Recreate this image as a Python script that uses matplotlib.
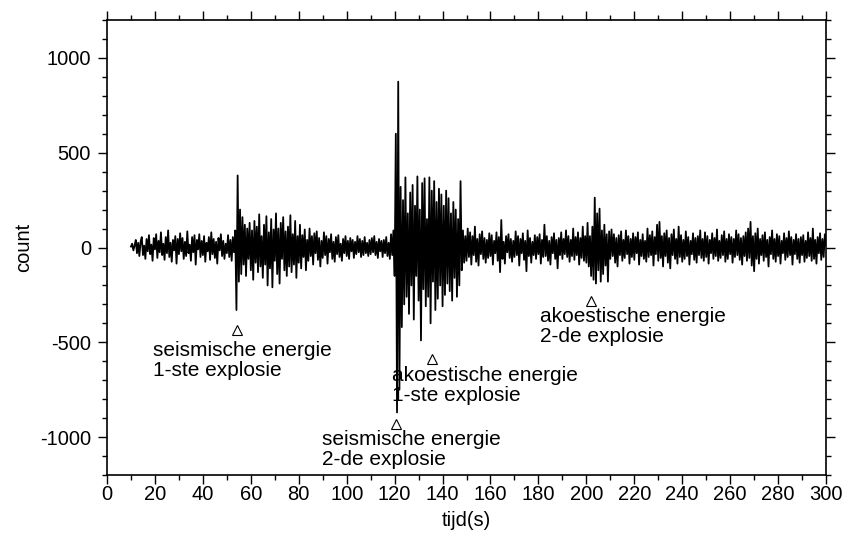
import matplotlib
matplotlib.use("Agg")
import matplotlib.pyplot as plt
import numpy as np
from matplotlib.ticker import MultipleLocator

plt.rcParams["font.family"] = ["Liberation Sans", "DejaVu Sans"]
plt.rcParams["axes.unicode_minus"] = False

# seismogram: first sample at 10 s, one value every 0.5 s
T_START = 10.0
DT = 0.5

counts = [
    # 10 - 19.5 s
    5, 20, -15, 10, 40, -30, 25, -45, 30, 55, -40, 10, -60, 45, -20, 65, -35, 15, -70, 50,
    # 20 - 29.5 s
    -10, 70, -55, 35, -25, 80, -40, 20, -65, 55, -30, 90, -50, 25, -75, 40, -15, 60, -85, 45,
    # 30 - 39.5 s
    -35, 75, -20, 50, -60, 30, -45, 85, -30, 15, -70, 55, -25, 65, -90, 40, -10, 70, -50, 35,
    # 40 - 49.5 s
    -40, 60, -75, 25, -20, 55, -65, 80, -35, 45, -55, 30, -85, 50, -15, 70, -45, 35, -60, 20,
    # 50 - 59.5 s  (seismic arrival 1st explosion)
    -30, 65, -50, 40, -70, 55, -25, 90, -330, 380, -180, 200, -140, 160, -90, 120, -150, 100, -60, 130,
    # 60 - 69.5 s
    -120, 90, -170, 140, -80, 110, -130, 175, -100, 60, -160, 120, -90, 165, -200, 80, -110, 150, -210, 95,
    # 70 - 79.5 s
    -70, 180, -140, 100, -190, 130, -60, 160, -120, 85, -150, 110, -100, 170, -130, 70, -90, 140, -160, 60,
    # 80 - 89.5 s
    -80, 120, -110, 65, -50, 95, -120, 40, -70, 100, -45, 60, -90, 75, -30, 85, -65, 50, -100, 35,
    # 90 - 99.5 s
    -55, 80, -40, 60, -85, 45, -25, 70, -60, 30, -75, 55, -35, 65, -50, 20, -70, 45, -30, 60,
    # 100 - 109.5 s
    -45, 35, -60, 50, -20, 40, -55, 30, -35, 60, -25, 45, -50, 35, -40, 55, -30, 25, -45, 40,
    # 110 - 119.5 s
    -35, 50, -25, 60, -40, 30, -55, 45, -20, 35, -50, 40, -30, 55, -45, 25, -60, 70, -40, 90,
    # 120 - 129.5 s  (seismic arrival 2nd explosion)
    -150, 600, -870, 875, -750, 320, -420, 250, -300, 370, -260, 180, -350, 290, -200, 330, -380, 220, -150, 375,
    # 130 - 139.5 s
    -280, 200, -490, 340, -220, 365, -310, 150, -260, 370, -400, 300, -180, 350, -330, 240, -270, 310, -200, 280,
    # 140 - 149.5 s
    -310, 220, -250, 300, -190, 260, -230, 180, -280, 240, -160, 200, -260, 150, -200, 350, -120, 90, -80, 60,
    # 150 - 159.5 s
    -70, 100, -50, 80, -90, 60, -40, 110, -75, 45, -95, 70, -35, 85, -60, 50, -80, 40, -55, 75,
    # 160 - 169.5 s
    -45, 65, -90, 35, -30, 80, -70, 55, -130, 145, -60, 30, -85, 60, -25, 70, -55, 45, -75, 35,
    # 170 - 179.5 s
    -50, 85, -40, 60, -95, 45, -30, 75, -65, 35, -125, 90, -45, 50, -80, 30, -40, 65, -60, 55,
    # 180 - 189.5 s
    -35, 70, -85, 40, -50, 120, -45, 60, -70, 35, -90, 55, -30, 75, -60, 40, -110, 50, -40, 80,
    # 190 - 199.5 s
    -60, 45, -35, 90, -50, 60, -75, 40, -45, 100, -65, 55, -40, 80, -90, 50, -55, 110, -70, 60,
    # 200 - 209.5 s  (acoustic arrival 2nd explosion)
    -80, 130, -100, 60, -150, 110, -170, 263, -190, 180, -120, 205, -180, 90, -140, 120, -95, 70, -180, 85,
    # 210 - 219.5 s
    -60, 95, -45, 70, -80, 50, -100, 65, -40, 85, -70, 40, -55, 90, -35, 60, -85, 45, -50, 75,
    # 220 - 229.5 s
    -65, 55, -30, 80, -90, 40, -45, 70, -60, 35, -75, 100, -50, 65, -40, 85, -95, 55, -35, 120,
    # 230 - 239.5 s
    -70, 135, -55, 60, -100, 75, -45, 90, -80, 50, -110, 70, -40, 95, -60, 45, -85, 110, -50, 65,
    # 240 - 249.5 s
    -75, 40, -60, 85, -45, 55, -90, 35, -35, 75, -65, 50, -80, 60, -40, 90, -55, 45, -70, 80,
    # 250 - 259.5 s
    -50, 60, -85, 40, -30, 75, -60, 50, -45, 95, -70, 35, -55, 65, -40, 85, -75, 45, -60, 70,
    # 260 - 269.5 s
    -35, 55, -80, 45, -50, 90, -40, 70, -65, 50, -90, 60, -45, 80, -70, 100, -55, 135, -95, 60,
    # 270 - 279.5 s
    -125, 75, -60, 100, -85, 45, -40, 65, -70, 80, -50, 40, -100, 55, -35, 90, -60, 45, -75, 70,
    # 280 - 289.5 s
    -45, 60, -85, 35, -30, 75, -65, 50, -50, 85, -40, 55, -90, 40, -35, 70, -60, 45, -80, 55,
    # 290 - 300 s
    -40, 65, -75, 35, -55, 80, -45, 50, -70, 100, -60, 40, -85, 55, -30, 75, -65, 45, -50, 70, 10,
]

# picked phases: marker position and label anchor
pick_times = [54.2, 120.6, 135.6, 201.9]
pick_counts = [-437, -930, -590, -284]
pick_labels = [
    "seismische energie\n1-ste explosie",
    "seismische energie\n2-de explosie",
    "akoestische energie\n1-ste explosie",
    "akoestische energie\n2-de explosie",
]
label_times = [19.2, 89.7, 118.9, 180.6]
label_counts = [-495, -965, -625, -315]


def main() -> None:
    t = T_START + DT * np.arange(len(counts))

    fig = plt.figure(figsize=(8.46, 5.38), dpi=100)
    ax = fig.add_axes([0.1265, 0.1171, 0.8499, 0.8457])

    ax.plot(t, counts, color="black", linewidth=1.3)

    ax.plot(pick_times, pick_counts, linestyle="none", marker="^", markersize=7,
            markerfacecolor="white", markeredgecolor="black", markeredgewidth=0.8)
    for x, y, text in zip(label_times, label_counts, pick_labels):
        ax.text(x, y, text, ha="left", va="top", fontsize=15, linespacing=1.07)

    ax.set_xlim(0, 300)
    ax.set_ylim(-1200, 1200)
    ax.xaxis.set_major_locator(MultipleLocator(20))
    ax.xaxis.set_minor_locator(MultipleLocator(10))
    ax.yaxis.set_major_locator(MultipleLocator(500))
    ax.yaxis.set_minor_locator(MultipleLocator(100))

    ax.tick_params(which="both", direction="out", top=True, right=True,
                   width=1, labelsize=14.5)
    ax.tick_params(which="major", length=6.5, pad=5)
    ax.tick_params(axis="x", which="major", pad=1)
    ax.tick_params(which="minor", length=3.5)
    for spine in ax.spines.values():
        spine.set_linewidth(1.2)

    ax.set_xlabel("tijd(s)", fontsize=14.5, labelpad=5)
    ax.set_ylabel("count", fontsize=14.5, labelpad=5)

    fig.savefig("out.png", dpi=100)
    plt.close(fig)


if __name__ == "__main__":
    main()
